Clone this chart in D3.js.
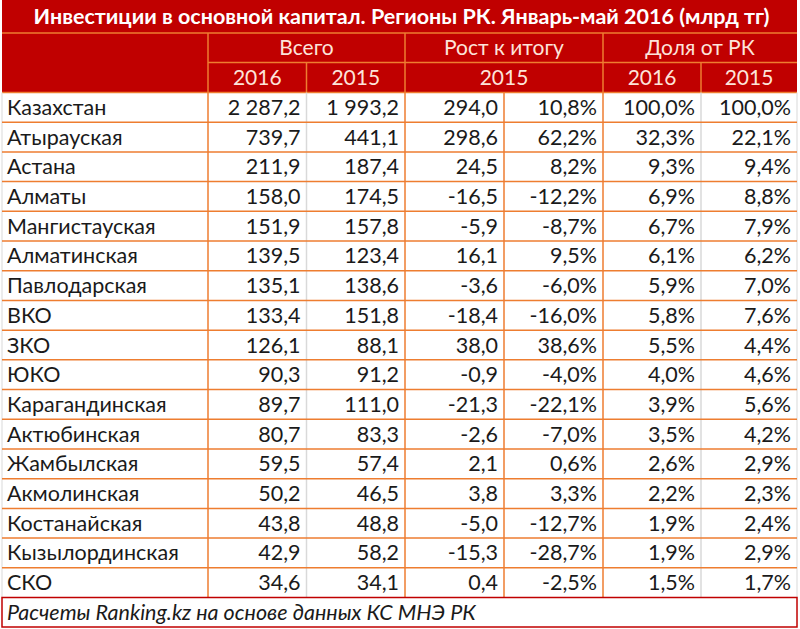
<!DOCTYPE html>
<html><head><meta charset="utf-8">
<script src="https://cdn.jsdelivr.net/npm/d3@7"></script>
<style>html,body{margin:0;padding:0;background:#fff;}</style>
</head><body>
<script>
const title = "Инвестиции в основной капитал. Регионы РК. Январь-май 2016 (млрд тг)";
const groupHeaders = ["Всего", "Рост к итогу", "Доля от РК"];
const subHeaders = ["2016", "2015", "2015", "2016", "2015"];
const footnote = "Расчеты Ranking.kz на основе данных КС МНЭ РК";
const regions = ["Казахстан","Атырауская","Астана","Алматы","Мангистауская","Алматинская","Павлодарская","ВКО","ЗКО","ЮКО","Карагандинская","Актюбинская","Жамбылская","Акмолинская","Костанайская","Кызылординская","СКО"];
const total2016 = [2287.2,739.7,211.9,158.0,151.9,139.5,135.1,133.4,126.1,90.3,89.7,80.7,59.5,50.2,43.8,42.9,34.6];
const total2015 = [1993.2,441.1,187.4,174.5,157.8,123.4,138.6,151.8,88.1,91.2,111.0,83.3,57.4,46.5,48.8,58.2,34.1];
const growthAbs = [294.0,298.6,24.5,-16.5,-5.9,16.1,-3.6,-18.4,38.0,-0.9,-21.3,-2.6,2.1,3.8,-5.0,-15.3,0.4];
const growthPct = [10.8,62.2,8.2,-12.2,-8.7,9.5,-6.0,-16.0,38.6,-4.0,-22.1,-7.0,0.6,3.3,-12.7,-28.7,-2.5];
const share2016 = [100.0,32.3,9.3,6.9,6.7,6.1,5.9,5.8,5.5,4.0,3.9,3.5,2.6,2.2,1.9,1.9,1.5];
const share2015 = [100.0,22.1,9.4,8.8,7.9,6.2,7.0,7.6,4.4,4.6,5.6,4.2,2.9,2.3,2.4,2.9,1.7];

const W = 800, H = 629;
const RED = "#C00000", ORANGE = "#EE7D30", GRAY = "#D9D9D9", HEADTXT = "#FDE4DA", TXT = "#1a1a1a";
const FONT = "Lato, 'Open Sans', sans-serif";
const loc = d3.formatLocale({decimal: ",", thousands: "\u00a0", grouping: [3], currency: ["", ""], minus: "-"});
const fNum = loc.format(",.1f");
const fPct = v => loc.format(".1f")(v) + "%";

const L = 2, R = 797;
const colEdges = [L, 208, 306.5, 405, 504, 603, 701, R];
const yTitle = [0, 33], yH1 = [33, 62.5], yH2 = [62.5, 92.5], yFoot = [597.5, 627];
const FS = 21.5;

const svg = d3.select("body").append("svg").attr("width", W).attr("height", H)
  .style("font-family", FONT);

const rows = d3.scaleBand().domain(d3.range(regions.length)).range([yH2[1], yFoot[0]]);

svg.append("rect").attr("x", L).attr("y", 0).attr("width", R - L).attr("height", yH2[1]).attr("fill", RED);
svg.append("rect").attr("x", L).attr("y", yH2[1]).attr("width", R - L).attr("height", yFoot[1] - yH2[1]).attr("fill", "#fff");

const line = (x1, y1, x2, y2, c, w = 1.5) => svg.append("line").attr("x1", x1).attr("y1", y1).attr("x2", x2).attr("y2", y2)
  .attr("stroke", c).attr("stroke-width", w);

svg.append("text").attr("x", (L + R) / 2 + 2).attr("y", 24).attr("text-anchor", "middle")
  .attr("fill", "#fff").attr("font-weight", "bold").attr("font-size", 21.5).text(title);

line(L, yTitle[1], R, yTitle[1], ORANGE);
line(colEdges[1], yH1[1], R, yH1[1], ORANGE);
line(L, yH2[1], R, yH2[1], ORANGE);
[1, 3, 5].forEach(i => line(colEdges[i], yH1[0], colEdges[i], yH2[1], ORANGE));
[2, 6].forEach(i => line(colEdges[i], yH2[0], colEdges[i], yH2[1], ORANGE));

const groups = [[1, 3], [3, 5], [5, 7]];
groupHeaders.forEach((gh, i) => {
  svg.append("text").attr("x", (colEdges[groups[i][0]] + colEdges[groups[i][1]]) / 2).attr("y", 55)
    .attr("text-anchor", "middle").attr("fill", HEADTXT).attr("font-size", 21).text(gh);
});
const subSpans = [[1, 2], [2, 3], [3, 5], [5, 6], [6, 7]];
subHeaders.forEach((s, i) => {
  svg.append("text").attr("x", (colEdges[subSpans[i][0]] + colEdges[subSpans[i][1]]) / 2).attr("y", 85)
    .attr("text-anchor", "middle").attr("fill", HEADTXT).attr("font-size", 21).text(s);
});

const cols = [
  {vals: total2016, f: fNum}, {vals: total2015, f: fNum},
  {vals: growthAbs, f: fNum}, {vals: growthPct, f: fPct},
  {vals: share2016, f: fPct}, {vals: share2015, f: fPct}
];
[[2, GRAY], [6, GRAY]].forEach(([i, c]) => line(colEdges[i], yH2[1], colEdges[i], yFoot[0], c));
[1, 3, 4, 5].forEach(i => line(colEdges[i], yH2[1], colEdges[i], yFoot[0], ORANGE));
line(L, yH2[1], L, yFoot[0], GRAY, 1);
line(R, yH2[1], R, yFoot[0], GRAY, 1);
regions.forEach((r, i) => {
  if (i > 0) line(L, rows(i), R, rows(i), ORANGE);
});

const g = svg.append("g").attr("font-size", FS).attr("fill", TXT);
regions.forEach((r, i) => {
  const yc = rows(i) + rows.bandwidth() / 2 + 7.5;
  g.append("text").attr("x", 7).attr("y", yc).text(r);
  cols.forEach((c, j) => {
    g.append("text").attr("x", colEdges[j + 2] - 6).attr("y", yc).attr("text-anchor", "end").text(c.f(c.vals[i]));
  });
});

svg.append("rect").attr("x", L).attr("y", yFoot[0]).attr("width", R - L).attr("height", yFoot[1] - yFoot[0])
  .attr("fill", "#fff").attr("stroke", RED).attr("stroke-width", 1.5);
svg.append("text").attr("x", 7).attr("y", yFoot[0] + 22).attr("font-style", "italic").attr("font-size", 21.5)
  .attr("fill", TXT).text(footnote);
</script>
</body></html>
